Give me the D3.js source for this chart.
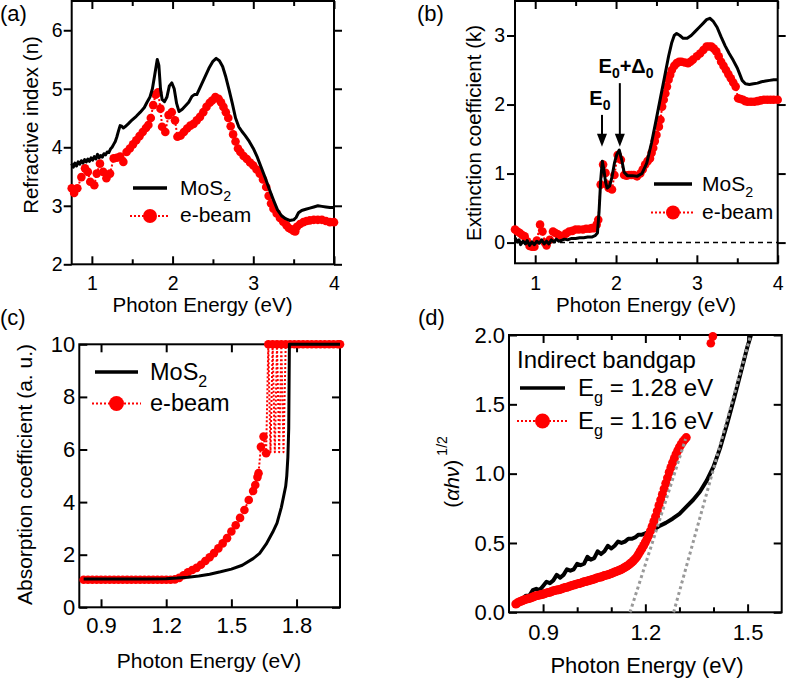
<!DOCTYPE html>
<html><head><meta charset="utf-8">
<script src="https://cdn.jsdelivr.net/npm/d3@7"></script>
<style>body{margin:0;background:#fff}svg{display:block}text{font-family:"Liberation Sans",Arial,Helvetica,sans-serif;fill:#000}</style>
</head><body><svg id="c" width="787" height="678"></svg>
<script>
// ---------- DATA ----------
// (a) refractive index
const aMosE = [0.75,0.77,0.79,0.81,0.83,0.85,0.87,0.89,0.91,0.93,0.95,0.97,0.99,1.01,1.03,1.05,1.07,1.09,1.11,1.13,1.15,1.17,1.19,1.21,1.23,1.25,1.27,1.29,1.31,1.33,1.35,1.37,1.39,1.41,1.45,1.50,1.55,1.60,1.65,1.68,1.72,1.75,1.78,1.81,1.83,1.85,1.87,1.90,1.93,1.96,1.99,2.02,2.05,2.08,2.12,2.16,2.20,2.24,2.27,2.30,2.35,2.40,2.45,2.50,2.54,2.58,2.62,2.66,2.70,2.74,2.78,2.82,2.86,2.90,2.95,3.00,3.05,3.10,3.15,3.20,3.25,3.30,3.35,3.40,3.45,3.50,3.53,3.56,3.60,3.65,3.70,3.75,3.80,3.85,3.90,3.95,4.00];
const aMosN = [3.72,3.66,3.73,3.68,3.75,3.71,3.77,3.73,3.79,3.75,3.80,3.76,3.82,3.78,3.84,3.80,3.88,3.82,3.86,3.83,3.89,3.87,3.92,3.91,3.97,4.00,4.05,4.10,4.18,4.28,4.37,4.36,4.33,4.35,4.40,4.47,4.53,4.60,4.68,4.76,4.86,5.00,5.25,5.50,5.40,5.00,4.82,4.78,4.86,5.05,5.10,5.00,4.75,4.61,4.65,4.71,4.77,4.87,4.90,4.90,5.05,5.20,5.35,5.47,5.52,5.48,5.38,5.20,4.98,4.75,4.50,4.35,4.27,4.20,4.10,3.98,3.83,3.65,3.47,3.28,3.10,2.93,2.83,2.78,2.75,2.76,2.80,2.88,2.92,2.94,2.96,2.98,3.00,2.99,2.98,2.97,2.97];
const aBeamE = [0.75,0.78,0.82,0.87,0.915,0.95,0.98,1.03,1.06,1.10,1.14,1.18,1.225,1.27,1.31,1.35,1.39,1.43,1.47,1.51,1.55,1.59,1.63,1.67,1.70,1.73,1.76,1.79,1.82,1.85,1.87,1.91,1.95,1.99,2.03,2.06,2.10,2.14,2.18,2.22,2.26,2.30,2.34,2.38,2.42,2.46,2.49,2.53,2.57,2.60,2.63,2.66,2.69,2.72,2.75,2.78,2.81,2.84,2.88,2.92,2.96,3.00,3.04,3.08,3.12,3.16,3.19,3.22,3.25,3.29,3.33,3.37,3.41,3.44,3.47,3.50,3.52,3.54,3.58,3.62,3.66,3.70,3.75,3.80,3.85,3.90,3.95,4.00];
const aBeamN = [3.30,3.22,3.30,3.49,3.64,3.58,3.41,3.35,3.55,3.72,3.58,3.47,3.55,3.81,3.82,3.84,3.75,3.92,3.98,4.05,4.12,4.19,4.26,4.33,4.38,4.50,4.72,4.90,4.94,4.66,4.35,4.26,4.55,4.60,4.46,4.18,4.20,4.26,4.32,4.37,4.40,4.46,4.52,4.60,4.69,4.76,4.80,4.86,4.83,4.77,4.69,4.60,4.50,4.36,4.22,4.10,3.98,3.92,3.85,3.80,3.74,3.69,3.62,3.55,3.45,3.32,3.17,3.04,2.95,2.87,2.79,2.73,2.67,2.62,2.60,2.57,2.56,2.64,2.69,2.72,2.74,2.75,2.76,2.76,2.76,2.74,2.72,2.72];

// (b) extinction coefficient
const bMosE = [0.75,0.78,0.80,0.82,0.85,0.88,0.90,0.93,0.96,0.99,1.02,1.05,1.08,1.11,1.14,1.17,1.20,1.23,1.26,1.29,1.32,1.36,1.40,1.45,1.50,1.55,1.60,1.65,1.70,1.74,1.77,1.79,1.81,1.83,1.85,1.87,1.89,1.92,1.95,1.98,2.01,2.04,2.07,2.10,2.14,2.20,2.26,2.32,2.38,2.44,2.50,2.55,2.60,2.65,2.69,2.72,2.75,2.79,2.83,2.88,2.93,2.98,3.03,3.08,3.12,3.16,3.20,3.25,3.30,3.35,3.40,3.45,3.50,3.53,3.56,3.60,3.65,3.70,3.75,3.80,3.85,3.90,3.95,4.00];
const bMosK = [0.07,0.01,0.04,-0.03,0.02,-0.02,0.03,-0.04,0.01,-0.03,0.02,-0.01,0.04,-0.02,0.02,-0.02,0.04,0.01,0.05,0.02,0.03,0.05,0.04,0.06,0.06,0.07,0.07,0.08,0.08,0.10,0.14,0.45,0.90,1.18,1.05,0.88,0.79,0.82,0.95,1.15,1.28,1.34,1.20,1.02,0.97,0.97,0.96,1.00,1.15,1.45,1.80,2.10,2.40,2.70,2.90,3.00,3.03,3.00,2.96,2.96,3.00,3.06,3.12,3.18,3.23,3.25,3.21,3.12,2.98,2.85,2.74,2.64,2.53,2.44,2.35,2.30,2.29,2.30,2.31,2.33,2.34,2.35,2.36,2.36];
const bBeamE = [0.75,0.78,0.81,0.84,0.87,0.90,0.93,0.96,0.99,1.02,1.06,1.09,1.12,1.14,1.18,1.22,1.25,1.28,1.31,1.34,1.38,1.42,1.46,1.50,1.54,1.59,1.63,1.67,1.70,1.73,1.76,1.78,1.81,1.84,1.87,1.89,1.91,1.95,1.98,2.02,2.06,2.10,2.13,2.16,2.19,2.22,2.26,2.30,2.33,2.36,2.39,2.42,2.44,2.46,2.48,2.50,2.53,2.55,2.57,2.59,2.61,2.63,2.65,2.67,2.69,2.72,2.75,2.78,2.81,2.85,2.89,2.92,2.95,3.00,3.04,3.08,3.12,3.15,3.18,3.21,3.24,3.27,3.30,3.33,3.36,3.39,3.42,3.45,3.48,3.51,3.54,3.57,3.60,3.63,3.67,3.71,3.75,3.79,3.83,3.87,3.91,3.95,4.00];
const bBeamK = [0.19,0.16,0.14,0.11,0.09,0.02,-0.05,-0.06,-0.06,0.03,0.26,0.16,0.00,-0.04,0.04,0.16,0.14,0.12,0.10,0.09,0.13,0.16,0.17,0.19,0.19,0.19,0.20,0.20,0.21,0.21,0.26,0.33,0.84,1.13,1.01,0.84,0.79,0.77,0.98,1.27,1.20,0.98,0.97,0.98,0.98,0.98,0.96,1.00,1.06,1.13,1.18,1.22,1.30,1.37,1.47,1.56,1.68,1.78,1.97,2.07,2.16,2.26,2.36,2.43,2.50,2.56,2.60,2.62,2.62,2.61,2.60,2.62,2.65,2.70,2.74,2.79,2.84,2.84,2.84,2.81,2.77,2.70,2.62,2.56,2.50,2.44,2.38,2.32,2.26,2.09,2.08,2.07,2.05,2.04,2.04,2.04,2.05,2.06,2.07,2.07,2.07,2.07,2.07];
const bArrowE = [1.826, 2.047];
const bArrowTopK = [1.85, 2.31];
const bArrowTipK = [1.387, 1.387];

// (c) absorption coefficient
const cMosE = [0.82,0.90,1.00,1.10,1.20,1.25,1.30,1.35,1.40,1.45,1.50,1.55,1.60,1.63,1.66,1.69,1.71,1.73,1.74,1.75,1.755,1.76,1.764,1.767,1.80,1.90,2.00];
const cMosA = [1.08,1.08,1.08,1.08,1.09,1.11,1.14,1.19,1.26,1.35,1.45,1.60,1.85,2.05,2.40,2.85,3.20,3.80,4.20,4.60,5.00,5.70,6.80,10,10,10,10];
const cBeamE = [0.82,0.84,0.86,0.88,0.90,0.92,0.94,0.96,0.98,1.00,1.02,1.04,1.06,1.08,1.10,1.12,1.14,1.16,1.18,1.20,1.22,1.24,1.26,1.28,1.30,1.32,1.34,1.36,1.38,1.40,1.42,1.44,1.46,1.48,1.50,1.52,1.54,1.56,1.58,1.60,1.61,1.62,1.625,1.636,1.648,1.66,1.67,1.69,1.71,1.73,1.75,1.77,1.79,1.81,1.83,1.85,1.87,1.89,1.91,1.93,1.95,1.97,1.99,2.00];
const cBeamA = [1.05,1.05,1.05,1.05,1.05,1.05,1.05,1.05,1.05,1.05,1.05,1.05,1.05,1.05,1.05,1.05,1.05,1.05,1.05,1.05,1.05,1.06,1.12,1.22,1.33,1.42,1.50,1.62,1.76,1.90,2.06,2.24,2.43,2.63,2.88,3.12,3.40,3.70,4.08,4.42,4.65,4.95,5.10,6.10,6.49,5.86,10,10,10,10,10,10,10,10,10,10,10,10,10,10,10,10,10,10];
const cSpikeE = [1.68,1.70,1.72,1.74];
const cSpikeA = [5.9,5.9,5.9,5.9];

// (d) (alpha h nu)^(1/2)
const dMosE = [0.825,0.83,0.84,0.85,0.86,0.87,0.88,0.89,0.90,0.91,0.92,0.93,0.94,0.95,0.96,0.97,0.98,0.99,1.00,1.01,1.02,1.03,1.04,1.05,1.06,1.07,1.08,1.09,1.10,1.11,1.12,1.13,1.14,1.15,1.16,1.17,1.18,1.19,1.20,1.22,1.24,1.26,1.28,1.30,1.32,1.34,1.36,1.38,1.40,1.42,1.44,1.46,1.48,1.50,1.51];
const dMosV = [0.04,0.08,0.10,0.12,0.12,0.16,0.17,0.16,0.19,0.22,0.21,0.23,0.27,0.25,0.27,0.31,0.30,0.31,0.35,0.34,0.35,0.40,0.38,0.39,0.44,0.42,0.44,0.48,0.46,0.48,0.51,0.50,0.51,0.53,0.53,0.54,0.56,0.56,0.57,0.59,0.62,0.645,0.675,0.71,0.76,0.81,0.87,0.95,1.05,1.19,1.36,1.54,1.73,1.92,2.0];
const dBeamE = [0.82,0.825,0.83,0.835,0.84,0.845,0.85,0.855,0.86,0.865,0.87,0.875,0.88,0.885,0.89,0.895,0.90,0.905,0.91,0.915,0.92,0.925,0.93,0.935,0.94,0.945,0.95,0.955,0.96,0.965,0.97,0.975,0.98,0.985,0.99,0.995,1.00,1.005,1.01,1.015,1.02,1.025,1.03,1.035,1.04,1.045,1.05,1.055,1.06,1.065,1.07,1.075,1.08,1.085,1.09,1.095,1.10,1.105,1.11,1.115,1.12,1.125,1.13,1.135,1.14,1.145,1.15,1.155,1.16,1.165,1.17,1.175,1.18,1.185,1.19,1.195,1.20,1.205,1.21,1.215,1.22,1.225,1.23,1.235,1.24,1.245,1.25,1.255,1.26,1.265,1.27,1.275,1.28,1.285,1.29,1.295,1.30,1.305,1.31,1.315,1.32];
const dBeamV = [0.06,0.068,0.075,0.08,0.085,0.09,0.095,0.098,0.10,0.105,0.11,0.115,0.12,0.122,0.125,0.128,0.13,0.135,0.14,0.142,0.145,0.15,0.155,0.158,0.16,0.162,0.165,0.17,0.175,0.178,0.18,0.185,0.19,0.194,0.197,0.201,0.205,0.208,0.21,0.215,0.22,0.222,0.225,0.229,0.233,0.236,0.24,0.245,0.25,0.252,0.255,0.26,0.265,0.268,0.27,0.275,0.28,0.285,0.29,0.295,0.30,0.305,0.31,0.317,0.325,0.332,0.34,0.35,0.36,0.372,0.385,0.40,0.42,0.44,0.46,0.482,0.505,0.53,0.555,0.587,0.62,0.655,0.69,0.73,0.77,0.81,0.85,0.89,0.93,0.97,1.01,1.045,1.08,1.11,1.14,1.165,1.19,1.21,1.23,1.245,1.26];
const dBeamExtraE = [1.392, 1.398];
const dBeamExtraV = [1.94, 1.99];
const dFit1E = [1.155, 1.318], dFit1V = [0, 1.25];
const dFit2E = [1.283, 1.509], dFit2V = [0, 2.0];

// tick values
const aXTicks = [1,2,3,4], aXMinor = [1.5,2.5,3.5], aYTicks = [2,3,4,5,6];
const bXTicks = [1,2,3,4], bXMinor = [1.5,2.5,3.5], bYTicks = [0,1,2,3];
const cXTicks = [0.9,1.2,1.5,1.8], cYTicks = [0,2,4,6,8,10];
const dXTicks = [0.9,1.2,1.5], dXMinor = [1.0,1.1,1.3,1.4], dYTicks = [0,0.5,1.0,1.5,2.0];

// ---------- DRAWING ----------
const svg = d3.select("#c");
const RED = "#ff0000";
const zip = (E,V) => E.map((e,i)=>({e, v:V[i]}));

function panel(c){
  const x = d3.scaleLinear().domain(c.xd).range([c.l,c.r]);
  const y = d3.scaleLinear().domain(c.yd).range([c.b,c.t]);
  const g = svg.append("g");
  const st = sel => {
    sel.select(".domain").remove();
    sel.selectAll("line").attr("stroke","#000").attr("stroke-width",2);
    sel.selectAll("text").attr("font-size",c.fs).attr("fill","#000");
  };
  g.append("rect").attr("x",c.l).attr("y",c.t).attr("width",c.r-c.l).attr("height",c.b-c.t)
    .attr("fill","none").attr("stroke","#000").attr("stroke-width",2);
  g.append("g").attr("transform",`translate(0,${c.b})`)
    .call(d3.axisBottom(x).tickValues(c.xt).tickSize(-8).tickPadding(c.xpad).tickFormat(c.xf)).call(st);
  g.append("g").attr("transform",`translate(0,${c.t})`)
    .call(d3.axisTop(x).tickValues(c.xt).tickSize(-8).tickFormat("")).call(st);
  if(c.xm){
    g.append("g").attr("transform",`translate(0,${c.b})`)
      .call(d3.axisBottom(x).tickValues(c.xm).tickSize(-5).tickFormat("")).call(st);
    g.append("g").attr("transform",`translate(0,${c.t})`)
      .call(d3.axisTop(x).tickValues(c.xm).tickSize(-5).tickFormat("")).call(st);
  }
  const ys = c.yOut ? 8 : -8;
  g.append("g").attr("transform",`translate(${c.l},0)`)
    .call(d3.axisLeft(y).tickValues(c.yt).tickSize(ys).tickPadding(c.ypad).tickFormat(c.yf)).call(st);
  g.append("g").attr("transform",`translate(${c.r},0)`)
    .call(d3.axisRight(y).tickValues(c.yt).tickSize(ys).tickFormat("")).call(st);
  g.append("text").attr("x",c.xtx).attr("y",c.xty).attr("text-anchor","middle").attr("font-size",c.tfs).text("Photon Energy (eV)");
  if(c.ytitle){
    g.append("text").attr("transform",`translate(${c.ytx},${c.yty}) rotate(-90)`).attr("text-anchor","middle")
      .attr("font-size",c.tfs).text(c.ytitle);
  }
  g.append("text").attr("x",c.lx).attr("y",c.ly).attr("font-size",22).text(c.label);
  return {x,y,g};
}

function drawLine(P, data, color, width, dash){
  const ln = d3.line().x(d=>P.x(d.e)).y(d=>P.y(d.v));
  const p = P.g.append("path").attr("d",ln(data)).attr("fill","none").attr("stroke",color)
    .attr("stroke-width",width).attr("stroke-linejoin","round");
  if(dash) p.attr("stroke-dasharray",dash);
  return p;
}
function drawDots(P, data, r){
  P.g.append("g").selectAll("circle").data(data).join("circle")
    .attr("cx",d=>P.x(d.e)).attr("cy",d=>P.y(d.v)).attr("r",r).attr("fill",RED);
}
function legendRow(g, x1, x2, y, isRed, tx, ty, fs, textFn, r){
  if(isRed){
    g.append("line").attr("x1",x1-3).attr("x2",x2+3).attr("y1",y).attr("y2",y).attr("stroke",RED).attr("stroke-width",2).attr("stroke-dasharray","2,2");
    g.append("circle").attr("cx",(x1+x2)/2).attr("cy",y).attr("r",r).attr("fill",RED);
  } else {
    g.append("line").attr("x1",x1).attr("x2",x2).attr("y1",y).attr("y2",y).attr("stroke","#000").attr("stroke-width",3.5);
  }
  const t = g.append("text").attr("x",tx).attr("y",ty).attr("font-size",fs);
  textFn(t, fs);
}
const mos2 = (t,fs) => { t.append("tspan").text("MoS"); t.append("tspan").attr("font-size",fs*0.68).attr("dy",fs*0.28).text("2"); };
const ebeam = (t) => { t.text("e-beam"); };

// ---- (a)
const A = panel({l:71.7,r:334,t:1,b:264.3,xd:[0.75,4],yd:[2,6.5],xt:aXTicks,xm:aXMinor,yt:aYTicks,
  xf:d3.format("d"),yf:d3.format("d"),fs:19.5,xpad:12,ypad:1,yOut:true,tfs:20.5,
  xtx:202.5,xty:312,ytitle:"Refractive index (n)",ytx:37.5,yty:125,label:"(a)",lx:0,ly:21});
drawLine(A, zip(aBeamE,aBeamN), RED, 2, "2,2");
drawDots(A, zip(aBeamE,aBeamN), 4.3);
drawLine(A, zip(aMosE,aMosN), "#000", 3);
legendRow(A.g,133,167,188,false,180,195,21,mos2);
legendRow(A.g,133,167,216,true,180,222,21,ebeam,7);

// ---- (b)
const B = panel({l:515,r:777.7,t:1,b:263.3,xd:[0.75,4],yd:[-0.3,3.5],xt:bXTicks,xm:bXMinor,yt:bYTicks,
  xf:d3.format("d"),yf:d3.format("d"),fs:19.5,xpad:12.5,ypad:2,yOut:true,tfs:20.5,
  xtx:646,xty:312,ytitle:"Extinction coefficient (k)",ytx:481,yty:133,label:"(b)",lx:417,ly:21});
B.g.append("line").attr("x1",B.x(0.75)).attr("x2",B.x(4)).attr("y1",B.y(0)).attr("y2",B.y(0))
  .attr("stroke","#000").attr("stroke-width",1.5).attr("stroke-dasharray","5,4");
drawLine(B, zip(bBeamE,bBeamK), RED, 2, "2,2");
drawDots(B, zip(bBeamE,bBeamK), 4.3);
drawLine(B, zip(bMosE,bMosK), "#000", 3);
bArrowE.forEach((e,i)=>{
  const xx = B.x(e), y0 = B.y(bArrowTopK[i]), y1 = B.y(bArrowTipK[i]);
  B.g.append("line").attr("x1",xx).attr("x2",xx).attr("y1",y0).attr("y2",y1-8).attr("stroke","#000").attr("stroke-width",2);
  B.g.append("path").attr("d",`M${xx-5},${y1-13}L${xx+5},${y1-13}L${xx},${y1}Z`).attr("fill","#000");
});
{
  const t1 = B.g.append("text").attr("x",B.x(1.80)).attr("y",B.y(2.0)).attr("text-anchor","middle").attr("font-size",20).attr("font-weight","bold");
  t1.append("tspan").text("E"); t1.append("tspan").attr("font-size",14).attr("dy",5).text("0");
  const t2 = B.g.append("text").attr("x",B.x(2.124)).attr("y",B.y(2.46)).attr("text-anchor","middle").attr("font-size",20).attr("font-weight","bold");
  t2.append("tspan").text("E"); t2.append("tspan").attr("font-size",14).attr("dy",5).text("0");
  t2.append("tspan").attr("dy",-5).text("+Δ"); t2.append("tspan").attr("font-size",14).attr("dy",5).text("0");
}
legendRow(B.g,654,692,184,false,702,191,21,mos2);
legendRow(B.g,654,692,212.5,true,702,219,21,ebeam,7);

// ---- (c)
const C = panel({l:79.3,r:340,t:344.3,b:607.3,xd:[0.8,2.0],yd:[0,10],xt:cXTicks,xm:null,yt:cYTicks,
  xf:d3.format(".1f"),yf:d3.format("d"),fs:22,xpad:10,ypad:4,yOut:false,tfs:21,
  xtx:209,xty:668,ytitle:"Absorption coefficient (a. u.)",ytx:31.5,yty:474.5,label:"(c)",lx:0,ly:325});
{
  const lineData = zip(cBeamE,cBeamA).concat(zip(cSpikeE,cSpikeA)).sort((a,b)=>a.e-b.e);
  drawLine(C, lineData, RED, 2, "2,2");
  drawDots(C, zip(cBeamE,cBeamA), 4.3);
}
drawLine(C, zip(cMosE,cMosA), "#000", 3);
legendRow(C.g,95,138,372,false,150,380,23.5,mos2);
legendRow(C.g,95,138,403.5,true,150,411,23.5,ebeam,7.5);

// ---- (d)
const D = panel({l:509,r:781.7,t:335,b:612.3,xd:[0.8,1.6],yd:[0,2],xt:dXTicks,xm:dXMinor,yt:dYTicks,
  xf:d3.format(".1f"),yf:d3.format(".1f"),fs:22,xpad:12.5,ypad:4,yOut:false,tfs:22,
  xtx:647,xty:673,ytitle:null,label:"(d)",lx:418,ly:325});
{
  const t = D.g.append("text").attr("transform","translate(459,472) rotate(-90)").attr("text-anchor","middle").attr("font-size",21);
  t.append("tspan").text("(");
  t.append("tspan").attr("font-style","italic").text("αhν");
  t.append("tspan").text(")");
  t.append("tspan").attr("font-size",14).attr("dx",4).attr("dy",-12).text("1/2");
}
drawLine(D, zip(dMosE,dMosV), "#000", 4);
drawLine(D, zip(dBeamE,dBeamV), RED, 2, "2,2");
drawDots(D, zip(dBeamE,dBeamV), 4.5);
drawDots(D, zip(dBeamExtraE,dBeamExtraV), 4.3);
drawLine(D, zip(dFit1E,dFit1V), "#999999", 3, "3,3");
drawLine(D, zip(dFit2E,dFit2V), "#999999", 3, "3,3");
D.g.append("text").attr("x",517).attr("y",368).attr("font-size",24).text("Indirect bandgap");
const eg = val => (t,fs) => { t.append("tspan").text("E"); t.append("tspan").attr("font-size",fs*0.68).attr("dy",fs*0.3).text("g"); t.append("tspan").attr("dy",-fs*0.3).text(" = " + val + " eV"); };
legendRow(D.g,520,565,388,false,578,396,24,eg("1.28"));
legendRow(D.g,520,565,421,true,578,429,24,eg("1.16"),7.5);
</script></body></html>
